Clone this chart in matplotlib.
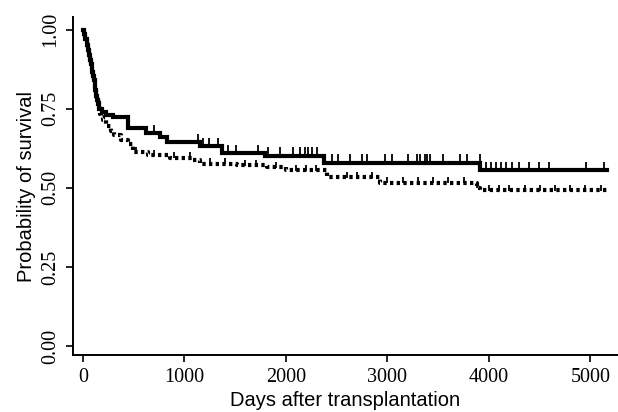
import numpy as np
import matplotlib
matplotlib.use("Agg")
import matplotlib.pyplot as plt

# Kaplan-Meier steps (days, survival)
solid_t = [0, 12, 25, 38, 50, 60, 70, 78, 85, 93, 100, 108, 115, 122, 130, 138, 145, 160, 190, 230, 300,
           443, 620, 760, 830, 1150, 1370, 1790, 2375, 3910]
solid_s = [1.0, 0.985, 0.97, 0.952, 0.935, 0.92, 0.905, 0.892, 0.88, 0.867, 0.855, 0.842, 0.83, 0.81, 0.79,
           0.777, 0.765, 0.75, 0.74, 0.73, 0.725, 0.69, 0.672, 0.66, 0.644, 0.632, 0.609, 0.602, 0.58, 0.555]
solid_end = 5160

dot_t = [0, 12, 25, 38, 50, 60, 70, 78, 85, 93, 100, 108, 115, 122, 130, 138, 145, 155, 165, 180, 200, 230,
         280, 310, 377, 443, 492, 640, 860, 1085, 1150, 1520, 1810, 2000, 2400, 2930, 3880, 3910]
dot_s = [1.0, 0.985, 0.97, 0.952, 0.935, 0.92, 0.905, 0.892, 0.88, 0.867, 0.855, 0.842, 0.83, 0.81, 0.79,
         0.78, 0.77, 0.752, 0.735, 0.724, 0.713, 0.697, 0.681, 0.666, 0.65, 0.64, 0.613, 0.603, 0.596, 0.587,
         0.577, 0.571, 0.565, 0.555, 0.533, 0.517, 0.50, 0.493]
dot_end = 5160

# censored times
solid_cens = [446, 701, 1132, 1181, 1240, 1328, 1426, 1505, 1721, 1819, 1946, 2074, 2142,
              2191, 2221, 2260, 2309, 2455, 2515, 2632, 2750, 2799, 2975, 3044, 3201, 3289,
              3319, 3368, 3387, 3417, 3544, 3711, 3779, 3907, 3975, 4024, 4074, 4123, 4172,
              4231, 4299, 4397, 4495, 4593, 4956, 5132]
dot_cens = [520, 700, 900, 1050, 1250, 1400, 1600, 1700, 1900, 2100, 2200, 2300, 2600,
            2700, 2850, 3000, 3150, 3300, 3450, 3600, 3750, 3880, 4000, 4100, 4200, 4350,
            4500, 4650, 4800, 4950, 5100]


def step_value(t, s, x):
    idx = np.searchsorted(t, x, side="right") - 1
    return np.asarray(s)[idx]


fig = plt.figure(figsize=(6.18, 4.12), dpi=100)
ax = fig.add_axes([73 / 618, 1 - 355 / 412, 545 / 618, (355 - 17) / 412])

ax.step(solid_t + [solid_end], solid_s + [solid_s[-1]], where="post",
        color="black", lw=3.0, solid_joinstyle="miter")
ax.step(dot_t + [dot_end], dot_s + [dot_s[-1]], where="post",
        color="black", lw=3.0, linestyle=(0, (0.8, 0.8)))

ax.plot(solid_cens, step_value(solid_t, solid_s, solid_cens) + 0.01, ls="none",
        marker="|", ms=7, mew=1.3, color="black")
ax.plot(dot_cens, step_value(dot_t, dot_s, dot_cens) + 0.008, ls="none",
        marker="|", ms=5, mew=1.3, color="black")

ax.set_xlim(-98, 5271)
ax.set_ylim(-0.028, 1.04)
ax.set_xticks([0, 1000, 2000, 3000, 4000, 5000])
ax.set_yticks([0, 0.25, 0.5, 0.75, 1.0])
ax.set_yticklabels(["0.00", "0.25", "0.50", "0.75", "1.00"], rotation=90, va="center")
for lab in ax.get_xticklabels() + ax.get_yticklabels():
    lab.set_family("Liberation Serif")
    lab.set_fontsize(14.5)
ax.tick_params(direction="out", length=5, width=1.2, pad=4)

ax.spines["top"].set_visible(False)
ax.spines["right"].set_visible(False)
ax.spines["left"].set_linewidth(1.4)
ax.spines["bottom"].set_linewidth(1.4)

ax.set_xlabel("Days after transplantation", family="Liberation Sans", fontsize=14.5, labelpad=3)
ax.set_ylabel("Probability of survival", family="Liberation Sans", fontsize=14.5, labelpad=4)

fig.savefig("out.png", dpi=100)
